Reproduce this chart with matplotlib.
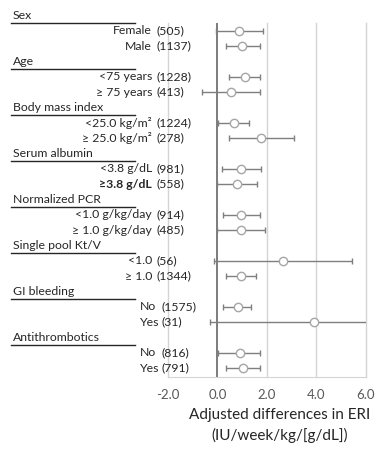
import numpy as np
import matplotlib.pyplot as plt

plt.rcParams['font.family'] = ['Lato', 'DejaVu Sans']

# groups and subgroup data
headers = ['Sex', 'Age', 'Body mass index', 'Serum albumin', 'Normalized PCR',
           'Single pool Kt/V', 'GI bleeding', 'Antithrombotics']
names = ['Female', 'Male',
         '<75 years', '\u2265 75 years',
         '<25.0 kg/m\u00b2', '\u2265 25.0 kg/m\u00b2',
         '<3.8 g/dL', '\u22653.8 g/dL',
         '<1.0 g/kg/day', '\u2265 1.0 g/kg/day',
         '<1.0', '\u2265 1.0',
         'No', 'Yes',
         'No', 'Yes']
counts = [505, 1137, 1228, 413, 1224, 278, 981, 558, 914, 485, 56, 1344, 1575, 31, 816, 791]
est = [0.86, 1.00, 1.10, 0.54, 0.66, 1.77, 0.97, 0.77, 0.97, 0.93, 2.64, 0.93, 0.81, 3.88, 0.89, 1.05]
lo = [-0.06, 0.34, 0.47, -0.62, 0.03, 0.45, 0.20, -0.03, 0.24, -0.03, -0.15, 0.34, 0.22, -0.32, 0.04, 0.36]
hi = [1.83, 1.70, 1.70, 1.70, 1.28, 3.11, 1.74, 1.58, 1.70, 1.90, 5.45, 1.54, 1.37, 6.30, 1.70, 1.70]
xticks = [-2.0, 0.0, 2.0, 4.0, 6.0]

fig = plt.figure(figsize=(3.83, 4.51), dpi=100)
ax = fig.add_axes([0.4386, 0.1648, 0.517, 0.784])

est = np.array(est)
lo = np.array(lo)
hi = np.array(hi)
# row positions: each group = header row + 2 rows
ypos = np.array([3 * (i // 2) + 1 + (i % 2) for i in range(len(est))])

# grid
for t in xticks:
    if t == 0:
        ax.axvline(t, color='#595959', lw=1.1, zorder=1)
    else:
        ax.axvline(t, color='#d4d4d4', lw=1.0, zorder=0, clip_on=False)

ax.errorbar(est, ypos, xerr=[est - lo, hi - est], fmt='o', ms=6,
            mfc='white', mec='#a6a6a6', mew=1.0, ecolor='#7f7f7f',
            elinewidth=1.0, capsize=2.2, capthick=1.0, zorder=3)

ax.set_xlim(-2, 6)
ax.set_ylim(23.55, 0.5)
ax.set_xticks(xticks)
ax.set_xticklabels(['%.1f' % t for t in xticks], color='#595959', fontsize=9.5)
ax.tick_params(axis='x', length=0, pad=9)
ax.set_yticks([])
for s in ['top', 'right', 'left']:
    ax.spines[s].set_visible(False)
ax.spines['bottom'].set_color('#d4d4d4')

tr = ax.get_yaxis_transform()
fs = 8.8
for g, h in enumerate(headers):
    r = 3 * g
    ax.text(-0.783, r, h, transform=tr, ha='left', va='center', fontsize=fs,
            color='#262626', clip_on=False)
    ax.plot([-0.793, -0.167], [r + 0.5, r + 0.5], transform=tr, color='#262626',
            lw=1.0, clip_on=False)

for i, (n, c) in enumerate(zip(names, counts)):
    weight = 'bold' if n == '\u22653.8 g/dL' else 'normal'
    if i >= 12:
        ax.text(-0.141, ypos[i], n, transform=tr, ha='left', va='center',
                fontsize=fs, color='#262626', clip_on=False)
        ax.text(-0.035, ypos[i], '(%d)' % c, transform=tr, ha='left', va='center',
                fontsize=fs, color='#262626', clip_on=False)
    else:
        ax.text(-0.08, ypos[i], n, transform=tr, ha='right', va='center',
                fontsize=fs, color='#262626', fontweight=weight, clip_on=False)
        ax.text(-0.058, ypos[i], '(%d)' % c, transform=tr, ha='left', va='center',
                fontsize=fs, color='#262626', clip_on=False)

fig.text(0.731, 0.079, 'Adjusted differences in ERI', ha='center', va='center',
         fontsize=11, color='#262626')
fig.text(0.731, 0.035, '(IU/week/kg/[g/dL])', ha='center', va='center',
         fontsize=11, color='#262626')

plt.savefig('out.png', dpi=100)
